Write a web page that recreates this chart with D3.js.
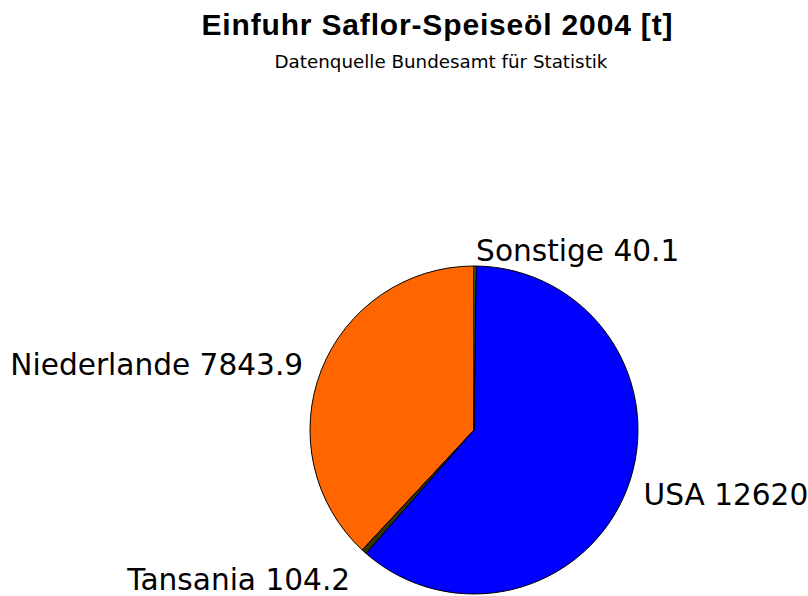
<!DOCTYPE html>
<html>
<head>
<meta charset="utf-8">
<script src="https://d3js.org/d3.v7.min.js"></script>
<style>
  body { margin: 0; background: #fff; }
</style>
</head>
<body>
<svg id="vis"></svg>
<script>
  var visWidth = 808
  var visHeight = 596

  // import values in tonnes, drawn counter-clockwise from the top
  var countries = ['Niederlande', 'Tansania', 'USA', 'Sonstige']
  var tonnes = [7843.9, 104.2, 12620, 40.1]
  var sliceColors = ['#ff6600', '#333300', '#0000ff', '#669900']

  var title = 'Einfuhr Saflor-Speiseöl 2004 [t]'
  var subtitle = 'Datenquelle Bundesamt für Statistik'

  var cx = 474, cy = 430, radius = 164

  var svg = d3.select('#vis')
    .attr('width', visWidth)
    .attr('height', visHeight)

  svg.append('text')
    .attr('x', 437)
    .attr('y', 35)
    .attr('text-anchor', 'middle')
    .attr('textLength', 471)
    .attr('lengthAdjust', 'spacing')
    .style('font-family', '"Liberation Sans", Arial, sans-serif')
    .style('font-weight', 'bold')
    .style('font-size', '30px')
    .text(title)

  svg.append('text')
    .attr('x', 441)
    .attr('y', 68)
    .attr('text-anchor', 'middle')
    .style('font-family', '"DejaVu Sans", sans-serif')
    .style('font-size', '18.3px')
    .text(subtitle)

  var slices = countries.map((c, i) => ({ name: c, value: tonnes[i], color: sliceColors[i] }))

  var pie = d3.pie()
    .sort(null)
    .value(d => d.value)
    .startAngle(0)
    .endAngle(-2 * Math.PI)

  var arc = d3.arc().innerRadius(0).outerRadius(radius)

  var g = svg.append('g').attr('transform', 'translate(' + cx + ',' + cy + ')')
  var arcs = pie(slices)

  g.selectAll('path')
    .data(arcs)
    .enter().append('path')
    .attr('d', arc)
    .attr('fill', d => d.data.color)
    .attr('stroke', 'black')
    .attr('stroke-width', 1)
    .attr('stroke-linejoin', 'round')

  g.selectAll('text.label')
    .data(arcs)
    .enter().append('text')
    .attr('class', 'label')
    .each(function(d) {
      var mid = (d.startAngle + d.endAngle) / 2
      var x = 1.1 * radius * Math.sin(mid)
      var y = -1.1 * radius * Math.cos(mid)
      // labels low on the circle sit a bit further down
      if (Math.cos(mid) < -0.7) y += 15
      d3.select(this)
        .attr('x', x + (x > 0 ? 1 : -3))
        .attr('y', y + 11)
        .attr('text-anchor', x > 0 ? 'start' : 'end')
    })
    .style('font-family', '"DejaVu Sans", sans-serif')
    .style('font-size', '29.6px')
    .text(d => d.data.name + ' ' + d.data.value)
</script>
</body>
</html>
